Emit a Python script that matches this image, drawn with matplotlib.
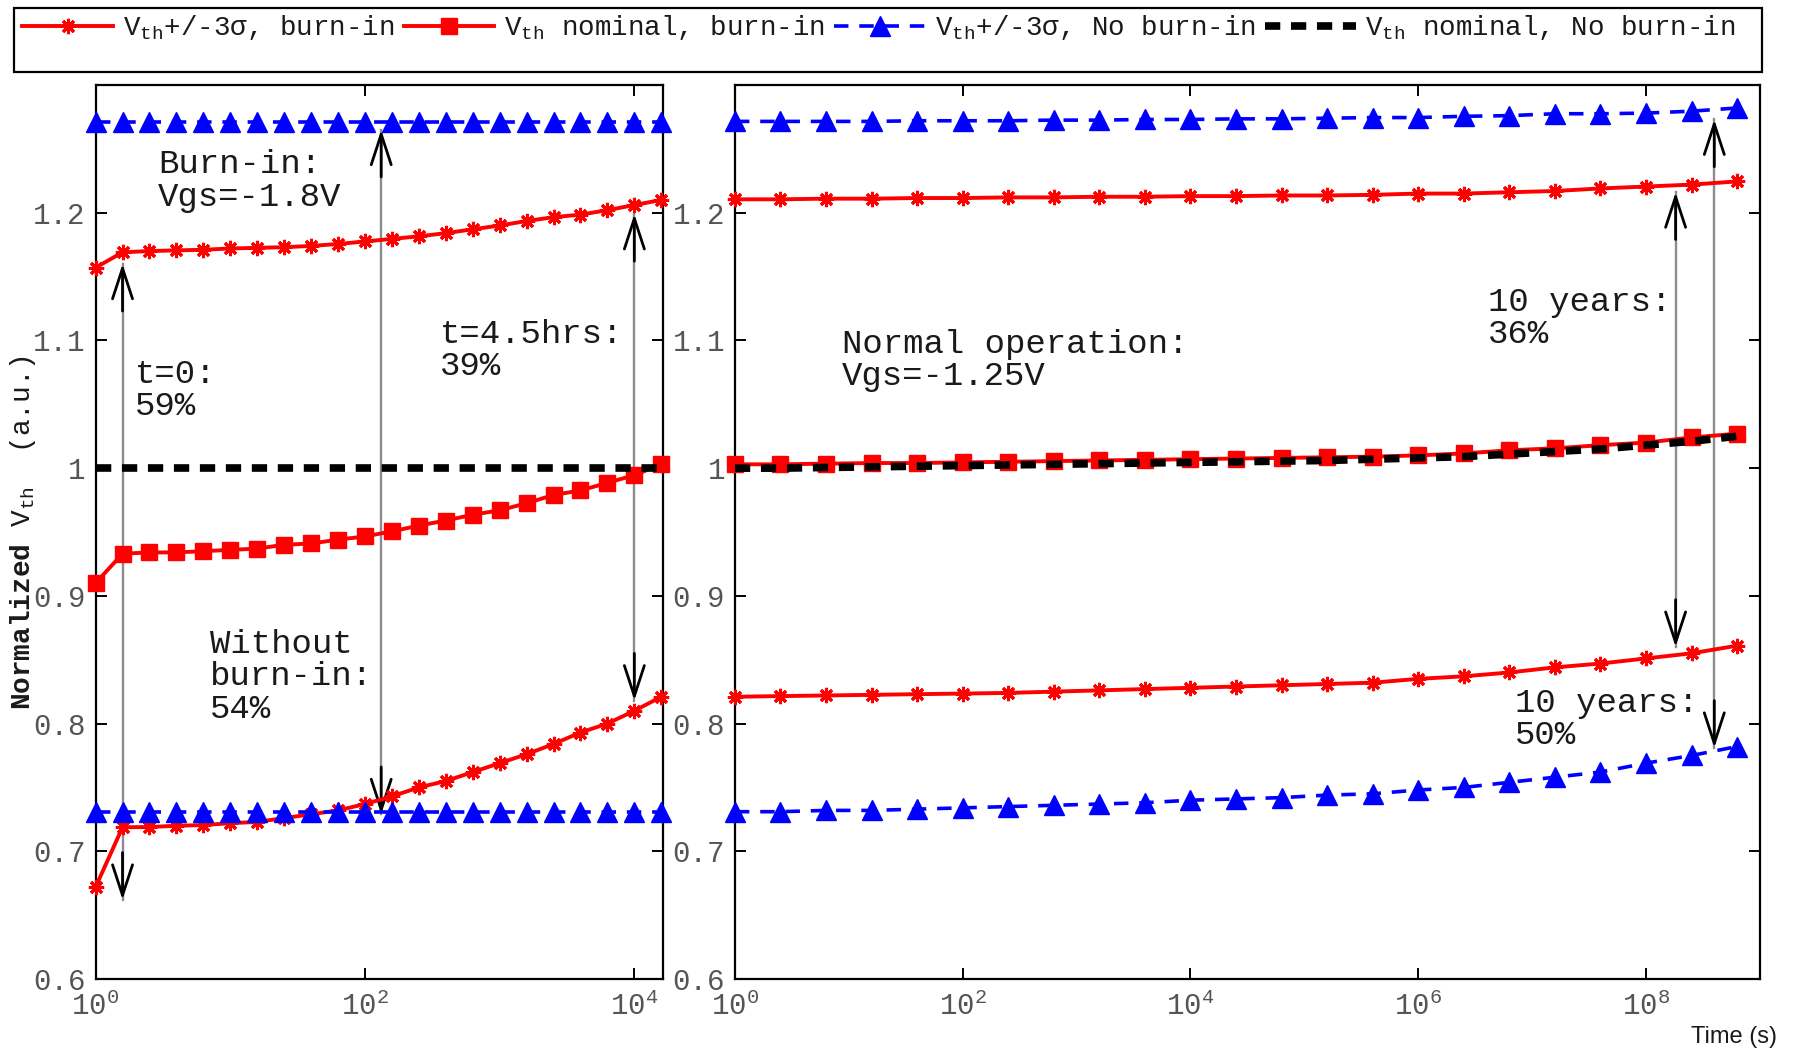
import matplotlib
matplotlib.use('Agg')
import matplotlib.pyplot as plt
from matplotlib.patches import Rectangle

plt.rcParams['font.family'] = ['Liberation Mono', 'DejaVu Sans Mono']
plt.rcParams['mathtext.fontset'] = 'custom'
plt.rcParams['mathtext.rm'] = 'Liberation Mono'
plt.rcParams['mathtext.it'] = 'Liberation Mono'
plt.rcParams['mathtext.bf'] = 'Liberation Mono:bold'

# ---- data: burn-in phase (left panel) ----
t_burn = [1, 1.585, 2.512, 3.981, 6.310, 10, 15.85, 25.12, 39.81, 63.10, 100,
          158.5, 251.2, 398.1, 631.0, 1000, 1585, 2512, 3981, 6310, 10000, 15849]
hi_burn_l = [1.157, 1.169, 1.170, 1.1705, 1.171, 1.172, 1.1725, 1.173, 1.174, 1.1755, 1.1775,
             1.1795, 1.1815, 1.184, 1.187, 1.190, 1.1935, 1.1965, 1.1985, 1.202, 1.206, 1.210]
nom_burn_l = [0.910, 0.933, 0.934, 0.934, 0.935, 0.936, 0.937, 0.940, 0.941, 0.944, 0.9465,
              0.9505, 0.955, 0.959, 0.9635, 0.967, 0.9725, 0.979, 0.9825, 0.9885, 0.9945, 1.003]
lo_burn_l = [0.672, 0.7188, 0.719, 0.720, 0.7205, 0.722, 0.723, 0.726, 0.729, 0.732, 0.737,
             0.743, 0.750, 0.755, 0.762, 0.769, 0.776, 0.784, 0.793, 0.800, 0.810, 0.821]
hi_noburn_l = [1.271] * 22
lo_noburn_l = [0.7305] * 22
nom_noburn_l = [1.0] * 22

# ---- data: normal operation (right panel) ----
t_oper = [1, 2.512, 6.310, 15.85, 39.81, 100, 251.2, 631.0, 1585, 3981, 1e4, 2.512e4,
          6.310e4, 1.585e5, 3.981e5, 1e6, 2.512e6, 6.310e6, 1.585e7, 3.981e7, 1e8,
          2.512e8, 6.310e8]
hi_burn_r = [1.2105, 1.2105, 1.211, 1.211, 1.2115, 1.2115, 1.212, 1.212, 1.2125, 1.2125,
             1.213, 1.213, 1.2135, 1.2135, 1.214, 1.215, 1.215, 1.216, 1.217, 1.219,
             1.2205, 1.222, 1.2245]
nom_burn_r = [1.003, 1.003, 1.0035, 1.004, 1.004, 1.0045, 1.005, 1.0055, 1.006, 1.0065,
              1.007, 1.0075, 1.008, 1.0085, 1.009, 1.010, 1.0115, 1.014, 1.0155, 1.018,
              1.020, 1.024, 1.027]
lo_burn_r = [0.821, 0.8215, 0.822, 0.8225, 0.823, 0.8235, 0.824, 0.825, 0.826, 0.827,
             0.828, 0.829, 0.830, 0.831, 0.832, 0.835, 0.837, 0.840, 0.844, 0.847,
             0.851, 0.855, 0.861]
hi_noburn_r = [1.2715, 1.2715, 1.2715, 1.2715, 1.272, 1.272, 1.272, 1.2725, 1.2725, 1.273,
               1.273, 1.2735, 1.2735, 1.274, 1.2745, 1.2745, 1.2755, 1.276, 1.2775, 1.2775,
               1.278, 1.2795, 1.282]
lo_noburn_r = [0.731, 0.731, 0.732, 0.732, 0.733, 0.734, 0.735, 0.736, 0.737, 0.738,
               0.740, 0.741, 0.742, 0.744, 0.745, 0.748, 0.750, 0.754, 0.758, 0.762,
               0.769, 0.775, 0.782]
nom_noburn_r = [1.000, 1.000, 1.0005, 1.001, 1.0015, 1.002, 1.0025, 1.003, 1.0035, 1.004,
                1.0045, 1.005, 1.0055, 1.006, 1.007, 1.008, 1.009, 1.011, 1.013, 1.015,
                1.018, 1.021, 1.025]

labels = ['V$_{\\mathrm{th}}$+/-3σ, burn-in', 'V$_{\\mathrm{th}}$ nominal, burn-in',
          'V$_{\\mathrm{th}}$+/-3σ, No burn-in', 'V$_{\\mathrm{th}}$ nominal, No burn-in']
yticks = [0.6, 0.7, 0.8, 0.9, 1.0, 1.1, 1.2]
ytick_labels = ['0.6', '0.7', '0.8', '0.9', '1', '1.1', '1.2']

# arrows: (x, y bottom tip, y top tip)
arrows_l = [(1.585, 0.662, 1.160), (132, 0.729, 1.265), (10000, 0.818, 1.199)]
arrows_r = [(1.82e8, 0.860, 1.216), (3.98e8, 0.781, 1.273)]

# notes: (x, y centre, text)
notes_l = [(2.92, 1.2248, 'Burn-in:\nVgs=-1.8V'),
           (1.97, 1.0605, 't=0:\n59%'),
           (360, 1.092, 't=4.5hrs:\n39%'),
           (7.03, 0.8365, 'Without\nburn-in:\n54%')]
notes_r = [(8.65, 1.084, 'Normal operation:\nVgs=-1.25V'),
           (4.07e6, 1.117, '10 years:\n36%'),
           (7.08e6, 0.8034, '10 years:\n50%')]

RED = '#ff0000'
BLUE = '#0000ff'
TXT = '#1a1a1a'

fig = plt.figure(figsize=(18, 10.52), dpi=100)
ax1 = fig.add_axes([0.0531, 0.0694, 0.315, 0.8498])
ax2 = fig.add_axes([0.4083, 0.0694, 0.5694, 0.8498])


def draw_series(ax, t, hi_b, nom_b, lo_b, hi_n, lo_n, nom_n):
    star = dict(color=RED, lw=2.8, marker=(8, 2, 0), ms=11, mew=2.2, clip_on=False, zorder=3)
    l1, = ax.plot(t, hi_b, **star)
    ax.plot(t, lo_b, **star)
    l2, = ax.plot(t, nom_b, color=RED, lw=2.8, marker='s', ms=12, mec=RED, mfc=RED,
                  clip_on=False, zorder=3)
    tri = dict(color=BLUE, lw=2.6, ls=(0, (4, 3)), marker='^', ms=15, mec=BLUE, mfc=BLUE,
               clip_on=False, zorder=4)
    l3, = ax.plot(t, hi_n, **tri)
    ax.plot(t, lo_n, **tri)
    l4, = ax.plot(t, nom_n, color='k', lw=5.5, ls=(0, (2.0, 1.4)), clip_on=False, zorder=5)
    return [l1, l2, l3, l4]


def vert_arrow(ax, x, y_lo, y_hi):
    ax.plot([x, x], [y_lo, y_hi], color='#8c8c8c', lw=1.7, zorder=1)
    for tip, off in ((y_hi, -34), (y_lo, 34)):
        ax.annotate('', xy=(x, tip), xytext=(0, off), textcoords='offset points',
                    arrowprops=dict(arrowstyle='->,head_length=1.1,head_width=0.36',
                                    color='k', lw=2.0, shrinkA=0, shrinkB=0,
                                    mutation_scale=20), zorder=2)


handles = draw_series(ax1, t_burn, hi_burn_l, nom_burn_l, lo_burn_l,
                      hi_noburn_l, lo_noburn_l, nom_noburn_l)
draw_series(ax2, t_oper, hi_burn_r, nom_burn_r, lo_burn_r,
            hi_noburn_r, lo_noburn_r, nom_noburn_r)

for x, lo, hi in arrows_l:
    vert_arrow(ax1, x, lo, hi)
for x, lo, hi in arrows_r:
    vert_arrow(ax2, x, lo, hi)

for x, y, s in notes_l:
    ax1.text(x, y, s, ha='left', va='center', fontsize=24.5, linespacing=1.05, color=TXT)
for x, y, s in notes_r:
    ax2.text(x, y, s, ha='left', va='center', fontsize=24.5, linespacing=1.05, color=TXT)

ax1.set_xscale('log')
ax2.set_xscale('log')
ax1.set_xlim(1, 16200)
ax2.set_xlim(1, 1e9)
ax1.set_xticks([1, 1e2, 1e4])
ax1.set_xticklabels(['10$^{0}$', '10$^{2}$', '10$^{4}$'])
ax2.set_xticks([1, 1e2, 1e4, 1e6, 1e8])
ax2.set_xticklabels(['10$^{0}$', '10$^{2}$', '10$^{4}$', '10$^{6}$', '10$^{8}$'])

for ax in (ax1, ax2):
    ax.set_ylim(0.6, 1.3)
    ax.set_yticks(yticks)
    ax.set_yticklabels(ytick_labels)
    ax.minorticks_off()
    ax.tick_params(direction='in', length=8, width=1.4, top=True, right=True,
                   labelsize=21, labelcolor='#555555')
    ax.tick_params(axis='y', pad=7)
    ax.tick_params(axis='x', pad=9)
    for sp in ax.spines.values():
        sp.set_linewidth(1.6)

fig.text(0.0128, 0.4933, '$\\mathbf{Normalized}$ V$_{\\mathrm{th}}$  (a.u.)', rotation=90,
         ha='center', va='center', fontsize=20, color=TXT)
fig.text(0.9633, 0.0143, 'Time (s)', ha='center', va='center', fontsize=17,
         family='Liberation Sans', color=TXT)

# legend: entries in one row, frame drawn as a separate box
leg = fig.legend(handles, labels, loc='center left', bbox_to_anchor=(14 / 1800, 1 - 28 / 1052),
                 ncol=4, fontsize=19.8, handlelength=3.3, handletextpad=0.35,
                 columnspacing=0.35, borderpad=0.3, borderaxespad=0, numpoints=1,
                 frameon=False)
for t in leg.get_texts():
    t.set_color(TXT)
fig.patches.append(Rectangle((14 / 1800, 1 - 72 / 1052), 1748 / 1800, 64 / 1052,
                             transform=fig.transFigure, fill=False, lw=1.6, ec='k'))

fig.savefig('out.png', dpi=100)
